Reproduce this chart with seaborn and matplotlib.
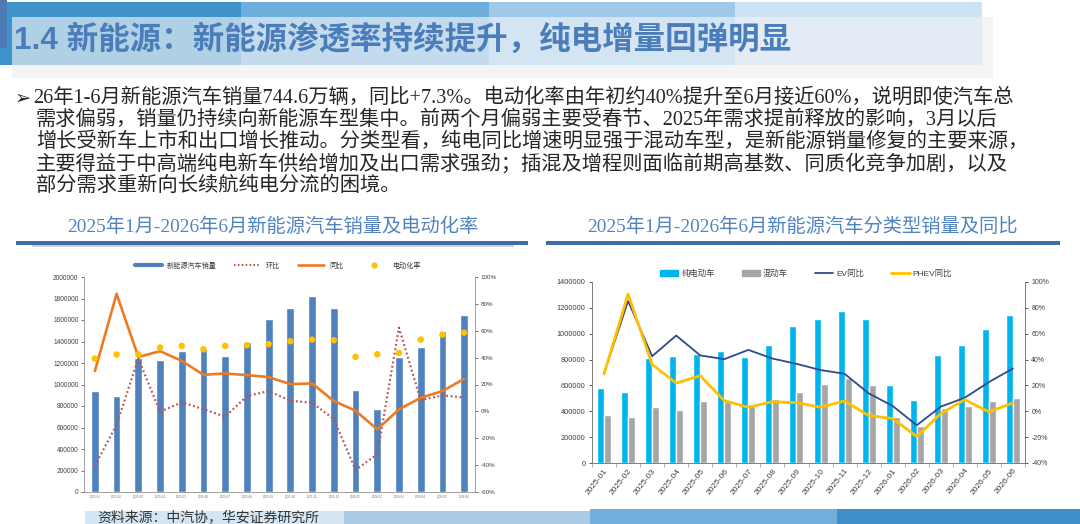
import numpy as np
import pandas as pd
import matplotlib
matplotlib.use("Agg")
import matplotlib.pyplot as plt
from matplotlib.patches import Rectangle
from matplotlib.lines import Line2D
from matplotlib.patches import Patch
from matplotlib.ticker import FuncFormatter
import seaborn as sns

# ---- data ----
months = ["2025-01", "2025-02", "2025-03", "2025-04", "2025-05", "2025-06",
          "2025-07", "2025-08", "2025-09", "2025-10", "2025-11", "2025-12",
          "2026-01", "2026-02", "2026-03", "2026-04", "2026-05", "2026-06"]

nev_sales = [944000, 893000, 1249000, 1230000, 1310000, 1332000,
             1268000, 1400000, 1605000, 1715000, 1825000, 1712000,
             947000, 773000, 1256000, 1346000, 1497000, 1643000]
nev_yoy = [0.30, 0.875, 0.405, 0.448, 0.376, 0.272, 0.282, 0.27, 0.255,
           0.203, 0.208, 0.077, 0.005, -0.134, 0.015, 0.101, 0.151, 0.242]
nev_mom = [-0.405, -0.10, 0.393, -0.002, 0.067, 0.017, -0.04, 0.114, 0.151,
           0.079, 0.064, -0.057, -0.435, -0.32, 0.623, 0.084, 0.119, 0.104]
elec_rate = [0.393, 0.423, 0.425, 0.475, 0.487, 0.462, 0.487, 0.492, 0.50,
             0.522, 0.534, 0.529, 0.406, 0.425, 0.435, 0.534, 0.571, 0.586]

ev_sales = [580000, 550000, 814000, 827000, 840000, 866000, 817000, 912000,
            1061000, 1112000, 1174000, 1112000, 601000, 488000, 835000,
            909000, 1033000, 1148000]
phev_sales = [375000, 352000, 437000, 411000, 478000, 480000, 455000, 496000,
              552000, 609000, 660000, 604000, 352000, 283000, 424000,
              444000, 478000, 506000]
ev_yoy = [0.293, 0.853, 0.426, 0.586, 0.432, 0.403, 0.475, 0.408, 0.367,
          0.319, 0.29, 0.139, 0.041, -0.108, 0.036, 0.105, 0.226, 0.331]
phev_yoy = [0.288, 0.907, 0.362, 0.218, 0.275, 0.082, 0.031, 0.074, 0.067,
            0.031, 0.08, -0.033, -0.056, -0.195, -0.018, 0.09, -0.005, 0.064]

page_title = "1.4 新能源：新能源渗透率持续提升，纯电增量回弹明显"
body_lines = [
    "26年1-6月新能源汽车销量744.6万辆，同比+7.3%。电动化率由年初约40%提升至6月接近60%，说明即使汽车总",
    "需求偏弱，销量仍持续向新能源车型集中。前两个月偏弱主要受春节、2025年需求提前释放的影响，3月以后",
    "增长受新车上市和出口增长推动。分类型看，纯电同比增速明显强于混动车型，是新能源销量修复的主要来源，",
    "主要得益于中高端纯电新车供给增加及出口需求强劲；插混及增程则面临前期高基数、同质化竞争加剧，以及",
    "部分需求重新向长续航纯电分流的困境。",
]
left_title = "2025年1月-2026年6月新能源汽车销量及电动化率"
right_title = "2025年1月-2026年6月新能源汽车分类型销量及同比"
source_text = "资料来源：中汽协，华安证券研究所"

# ---- style ----
sns.set_style("white")
plt.rcParams["font.family"] = ["Liberation Sans", "Noto Sans CJK SC", "DejaVu Sans"]
plt.rcParams["axes.unicode_minus"] = False
serif_cjk = ["Liberation Serif", "Noto Sans CJK SC", "DejaVu Sans"]

W, H = 1080, 524
fig = plt.figure(figsize=(W / 100, H / 100), dpi=100)


def box(x0, y0, x1, y1):
    # pixel box (top-left origin) -> figure fraction
    return [x0 / W, 1 - y1 / H, (x1 - x0) / W, (y1 - y0) / H]


# background layer for slide decorations and text
bg = fig.add_axes([0, 0, 1, 1], zorder=-10)
bg.set_xlim(0, W)
bg.set_ylim(H, 0)
bg.axis("off")


def rect(x0, y0, x1, y1, c):
    bg.add_patch(Rectangle((x0, y0), x1 - x0, y1 - y0, color=c, lw=0))


# top banner
rect(12, 17, 993, 78, "#F4F4F4")
for (a, b), top, over in zip([(0, 241), (241, 489), (489, 735), (735, 982)],
                             ["#3F93CB", "#6EAEDC", "#A2C8E7", "#CDE2F2"],
                             ["#B0D0E6", "#C4DBEE", "#D3E4F2", "#E3EBF4"]):
    rect(a, 2, b, 65, top)
    rect(max(a, 12), 17, b, 65, over)
rect(0, 0, 7, 48, "#4C7AB5")
bg.text(14, 40, page_title, fontsize=22.7, color="#4A7DBA", fontweight="bold",
        va="center", ha="left", family=["Liberation Sans", "Noto Sans CJK SC"])

# body text
bg.text(15, 98, "➢", fontsize=14, color="#222222", va="center", ha="left",
        family=["DejaVu Sans"])
for i, line in enumerate(body_lines):
    x = 33 if i == 0 else 36
    bg.text(x, 98 + 22 * i, line, fontsize=14.6, color="#262626",
            va="center", ha="left", family=serif_cjk)

# chart headers
bg.text(273, 227, left_title, fontsize=13.9, color="#5283C0", ha="center",
        va="center", family=serif_cjk)
bg.text(802, 227, right_title, fontsize=13.9, color="#5283C0", ha="center",
        va="center", family=serif_cjk)
rect(16, 241, 528, 245, "#3D6CA6")
rect(32, 245, 514, 247, "#C9CED6")
rect(546, 241, 1060, 245, "#3D6CA6")

# bottom band + source
rect(85, 511, 344, 524, "#D4E5F3")
rect(344, 511, 590, 524, "#A8CAE5")
rect(590, 509, 837, 524, "#72AEDB")
rect(837, 509, 1080, 524, "#3F8FCB")
bg.text(97, 517, source_text, fontsize=10, color="#333333", va="center",
        ha="left", family=serif_cjk)

x = np.arange(len(months))
spine_c = "#A0A0A0"
tick_c = "#404040"

# ---- left chart ----
axL = fig.add_axes(box(84, 277, 475, 492))
axL.patch.set_alpha(0)
sns.barplot(x=months, y=nev_sales, color="#4F81BD", width=0.36, saturation=1,
            errorbar=None, ax=axL)
axL.set_xlim(-0.5, len(months) - 0.5)
axL.set_ylim(0, 2000000)
axL.set_yticks(np.arange(0, 2000001, 200000))
axL.yaxis.set_major_formatter(FuncFormatter(lambda v, p: f"{int(v)}"))
axL.tick_params(axis="y", labelsize=4.7, colors=tick_c, length=2, width=0.5,
                left=True, pad=2)
axL.set_xticks(x)
axL.set_xticklabels(months, fontsize=2.2, color="#707070")
axL.tick_params(axis="x", length=0, pad=2)
axL2 = axL.twinx()
axL2.patch.set_alpha(0)
sns.lineplot(x=x, y=nev_mom, ax=axL2, color="#C0504D", lw=1.6,
             linestyle=(0, (0.8, 1.2)))
sns.lineplot(x=x, y=nev_yoy, ax=axL2, color="#EE7A22", lw=1.9)
sns.scatterplot(x=x, y=elec_rate, ax=axL2, color="#FFC000", s=22,
                edgecolor="none", zorder=5)
axL2.set_ylim(-0.6, 1.0)
axL2.set_yticks(np.arange(-0.6, 1.01, 0.2))
axL2.yaxis.set_major_formatter(FuncFormatter(lambda v, p: f"{v * 100:.0f}%"))
axL2.tick_params(axis="y", labelsize=4.5, colors=tick_c, length=2, width=0.5,
                 right=True, pad=2)
for a in (axL, axL2):
    for s in a.spines.values():
        s.set_color(spine_c)
        s.set_linewidth(0.6)
    a.spines["top"].set_visible(False)
    a.set_xlabel("")
    a.set_ylabel("")

hL = [Line2D([], [], color="#4F81BD", lw=3),
      Line2D([], [], color="#C0504D", lw=1.4, linestyle=(0, (0.8, 1.2))),
      Line2D([], [], color="#EE7A22", lw=1.9),
      Line2D([], [], color="#FFC000", lw=0, marker="o", markersize=3.5)]
axL2.legend(hL, ["新能源汽车销量", "环比", "同比", "电动化率"], ncol=4,
            loc="center", bbox_to_anchor=(278 / W, 1 - 266 / H),
            bbox_transform=fig.transFigure, frameon=False, fontsize=5.1,
            handlelength=3.75, handletextpad=0.7, columnspacing=2.5,
            labelcolor="#404040")

# ---- right chart ----
axR = fig.add_axes(box(592, 282, 1025, 463))
axR.patch.set_alpha(0)
df = pd.DataFrame({
    "month": months * 2,
    "value": ev_sales + phev_sales,
    "type": ["纯电动车"] * len(months) + ["混动车"] * len(months),
})
sns.barplot(data=df, x="month", y="value", hue="type",
            palette=["#00B5EF", "#A6A6A6"], width=0.58, saturation=1,
            errorbar=None, legend=False, ax=axR)
axR.set_xlim(-0.5, len(months) - 0.5)
axR.set_ylim(0, 1400000)
axR.set_yticks(np.arange(0, 1400001, 200000))
axR.yaxis.set_major_formatter(FuncFormatter(lambda v, p: f"{int(v)}"))
axR.tick_params(axis="y", labelsize=5.3, colors=tick_c, length=2.5, width=0.6,
                left=True, pad=2)
axR.set_xticks(x)
axR.set_xticklabels(months, fontsize=6, color=tick_c, rotation=52,
                    ha="right", va="top", rotation_mode="anchor")
axR.tick_params(axis="x", which="major", length=0, pad=3)
axR.set_xticks(np.arange(-0.5, len(months), 1), minor=True)
axR.tick_params(axis="x", which="minor", length=3, width=0.6, color=spine_c,
                bottom=True)
axR2 = axR.twinx()
axR2.patch.set_alpha(0)
sns.lineplot(x=x, y=ev_yoy, ax=axR2, color="#2E4A8A", lw=1.3)
sns.lineplot(x=x, y=phev_yoy, ax=axR2, color="#FFC000", lw=2.0)
axR2.set_ylim(-0.4, 1.0)
axR2.set_yticks(np.arange(-0.4, 1.01, 0.2))
axR2.yaxis.set_major_formatter(FuncFormatter(lambda v, p: f"{v * 100:.0f}%"))
axR2.tick_params(axis="y", labelsize=5.0, colors=tick_c, length=2.5, width=0.6,
                 right=True, pad=2)
for a in (axR, axR2):
    for s in a.spines.values():
        s.set_color("#808080")
        s.set_linewidth(0.7)
    a.spines["top"].set_visible(False)
    a.set_xlabel("")
    a.set_ylabel("")

hR = [Patch(color="#00B5EF"), Patch(color="#A6A6A6"),
      Line2D([], [], color="#2E4A8A", lw=1.3),
      Line2D([], [], color="#FFC000", lw=2.0)]
axR2.legend(hR, ["纯电动车", "混动车", "EV同比", "PHEV同比"], ncol=4,
            loc="center", bbox_to_anchor=(806 / W, 1 - 274 / H),
            bbox_transform=fig.transFigure, frameon=False, fontsize=6,
            handlelength=2.2, handleheight=0.8, handletextpad=0.4,
            columnspacing=3.2, labelcolor="#404040")

fig.savefig("out.png", dpi=100)
